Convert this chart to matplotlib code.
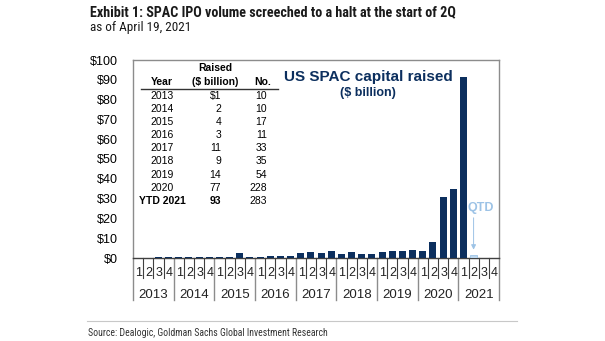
import matplotlib
matplotlib.use("Agg")
import matplotlib.pyplot as plt
import matplotlib.transforms as mtrans

# ---- data ----
years = ["2013", "2014", "2015", "2016", "2017", "2018", "2019", "2020", "2021"]
quarters = ["1", "2", "3", "4"]
raised_q = [0.2, 0.2, 0.3, 0.3,
            0.4, 0.5, 0.5, 0.6,
            0.3, 0.4, 2.5, 0.3,
            0.3, 0.8, 0.8, 0.9,
            2.3, 2.8, 2.5, 3.4,
            1.8, 2.8, 2.2, 2.2,
            3.0, 3.4, 3.6, 4.0,
            3.4, 8.2, 31.0, 34.6,
            91.5]
qtd_value = [1.5]
yticks = [0, 10, 20, 30, 40, 50, 60, 70, 80, 90, 100]

tbl_year = ["2013", "2014", "2015", "2016", "2017", "2018", "2019", "2020", "YTD 2021"]
tbl_raised = ["$1", "2", "4", "3", "11", "9", "14", "77", "93"]
tbl_no = ["10", "10", "17", "11", "33", "35", "54", "228", "283"]

NAVY = "#0c2f5e"
LIGHT = "#bdd7ee"
QTDC = "#9dc3e6"
GRAY = "#8c8c8c"

plt.rcParams['font.family'] = ['Liberation Sans', 'DejaVu Sans']

W, H = 605, 341
fig = plt.figure(figsize=(W / 100, H / 100), dpi=100)
L, R, T, B = 133, 499, 60, 258
ax = fig.add_axes([L / W, 1 - B / H, (R - L) / W, (B - T) / H])

nslots = len(years) * 4
xs = [i + 0.5 for i in range(len(raised_q))]
ax.bar(xs, raised_q, width=0.68, color=NAVY, zorder=3)
xq = [len(raised_q) + 0.5]
ax.bar(xq, qtd_value, width=0.68, color=LIGHT, edgecolor="#9dc3e6", linewidth=0.6, zorder=3)

ax.set_xlim(0, nslots)
ax.set_ylim(0, 100)
ax.set_yticks(yticks)
ax.set_yticklabels([f"${v}" for v in yticks], fontsize=9)
ax.tick_params(axis='y', length=0, pad=11)
ax.set_xticks([])
for s in ["top", "right", "left"]:
    ax.spines[s].set_color(GRAY)
    ax.spines[s].set_linewidth(1.0)
ax.spines["bottom"].set_color("#404040")
ax.spines["bottom"].set_linewidth(1.0)

hpx = B - T
def ay(py):
    return -(py - B) / hpx

trans = mtrans.blended_transform_factory(ax.transData, ax.transAxes)
for i in range(nslots + 1):
    if i % 4 == 0:
        ax.plot([i, i], [0, ay(300)], transform=trans, color=GRAY, lw=1.0, clip_on=False)
    else:
        ax.plot([i, i], [0, ay(278)], transform=trans, color="#404040", lw=0.8, clip_on=False)
for yi, yr in enumerate(years):
    for qi, q in enumerate(quarters):
        ax.text(yi * 4 + qi + 0.55, ay(273), q, transform=trans, ha="center", va="center",
                fontsize=9, color="#222222")
    ax.text(yi * 4 + 2, ay(294.5), yr, transform=trans, ha="center", va="center",
            fontsize=9.5, color="#222222")

# QTD annotation
ax.text(34.2, 25.3, "QTD", ha="center", va="center", color=QTDC, fontsize=9, fontweight="bold")
ax.annotate("", xy=(xq[0], 2.8), xytext=(xq[0], 21.7),
            arrowprops=dict(arrowstyle="-|>", color=QTDC, lw=0.7, mutation_scale=7))

# Chart title inside
fig.text(368 / W, 1 - 77 / H, "US SPAC capital raised", ha="center", va="center",
         fontsize=11, fontweight="bold", color=NAVY)
fig.text(368 / W, 1 - 93 / H, "($ billion)", ha="center", va="center",
         fontsize=9, fontweight="bold", color=NAVY)

# Table
fs = 7.5
fig.text(215 / W, 1 - 68 / H, "Raised", ha="center", va="center", fontsize=fs, fontweight="bold")
fig.text(162 / W, 1 - 82 / H, "Year", ha="center", va="center", fontsize=fs, fontweight="bold")
fig.text(215 / W, 1 - 82 / H, "($ billion)", ha="center", va="center", fontsize=fs, fontweight="bold")
fig.text(263 / W, 1 - 82 / H, "No.", ha="center", va="center", fontsize=fs, fontweight="bold")
fig.add_artist(plt.Line2D([141 / W, 278 / W], [1 - 89 / H, 1 - 89 / H], color="#333333", lw=1.0))
for r, (yv, rv, nv) in enumerate(zip(tbl_year, tbl_raised, tbl_no)):
    yy = 1 - (96 + r * 13.1) / H
    bold = "bold" if r == len(tbl_year) - 1 else "normal"
    fig.text(162 / W, yy, yv, ha="center", va="center", fontsize=fs, fontweight=bold)
    fig.text(221 / W, yy, rv, ha="right", va="center", fontsize=fs, fontweight=bold)
    fig.text(267 / W, yy, nv, ha="right", va="center", fontsize=fs)

# Titles
cond = ['Liberation Sans Narrow', 'Roboto Condensed', 'Liberation Sans', 'DejaVu Sans']
fig.text(90 / W, 1 - 12 / H, "Exhibit 1: SPAC IPO volume screeched to a halt at the start of 2Q",
         ha="left", va="center", fontsize=10.2, fontweight="bold", family=cond, color="#1a1a1a")
fig.text(90 / W, 1 - 27 / H, "as of April 19, 2021", ha="left", va="center", fontsize=9.5,
         family=cond, color="#1a1a1a")
fig.add_artist(plt.Line2D([87 / W, 517 / W], [1 - 321 / H, 1 - 321 / H], color="#c8c8c8", lw=0.8))
fig.text(88 / W, 1 - 333 / H, "Source: Dealogic, Goldman Sachs Global Investment Research",
         ha="left", va="center", fontsize=7, family=cond, color="#333333")

fig.savefig("out.png", dpi=100)
